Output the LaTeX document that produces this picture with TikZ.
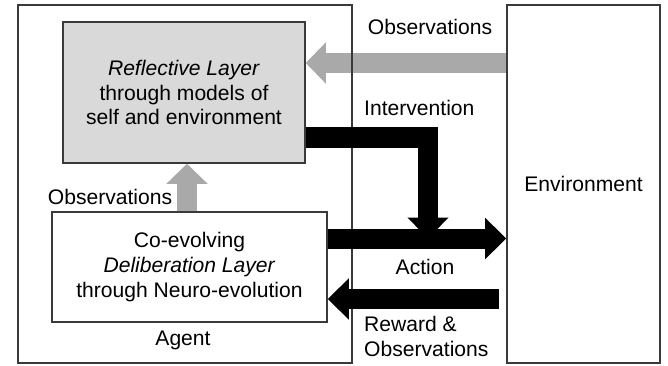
\documentclass[tikz,border=0pt]{standalone}
\usepackage{fontspec}
\setmainfont{Liberation Sans}
\usetikzlibrary{arrows.meta,backgrounds}

\definecolor{framegray}{HTML}{3A3A3A}
\definecolor{layergray}{HTML}{D9D9D9}
\definecolor{obsgray}{HTML}{A9A9A9}

\begin{document}
\begin{tikzpicture}
	[
		x=0.03cm, y=-0.03cm,
		font=\fontsize{18}{21.3}\selectfont,
		frame/.style={draw=framegray, line width=1.3pt, inner sep=0pt, align=center},
		flowlabel/.style={inner sep=0pt, align=left},
		obsflow/.style={draw=obsgray, line width=0.6cm, -{Triangle[length=0.6cm, width=1.2cm]}, obsgray},
		ctrlflow/.style={draw=black, line width=0.6cm, -{Triangle[length=0.63cm, width=1.2cm]}}
	]

	\useasboundingbox (0,0) rectangle (668,366);

	% boxes
	\node[frame, minimum width=10.02cm, minimum height=10.74cm] (agent) at (185,184) {};
	\node[frame, minimum width=4.59cm, minimum height=10.74cm] (env) at (583.5,184) {Environment};

	\node[frame, fill=layergray, minimum width=7.26cm, minimum height=4.23cm] (refl) at (184,92.5)
		{\textit{Reflective Layer}\\through models of\\self and environment};
	\node[frame, minimum width=8.25cm, minimum height=3.3cm] (delib) at (189.5,267)
		{Co-evolving\\\textit{Deliberation Layer}\\through Neuro-evolution};

	% levels of the flows
	\coordinate (obsY) at (0,63);
	\coordinate (upX) at (187,0);
	\coordinate (intY) at (0,137.5);
	\coordinate (intX) at (428,0);
	\coordinate (actY) at (0,238.5);
	\coordinate (rewY) at (0,299);

	% observations run under the agent frame
	\begin{pgfonlayer}{background}
		\draw[obsflow] (env.west |- obsY) -- (refl.east |- obsY);
		\draw[obsflow] (delib.north -| upX) -- (refl.south -| upX);
	\end{pgfonlayer}

	\draw[ctrlflow] (refl.east |- intY) -| (intX |- actY);
	\draw[ctrlflow] (delib.east |- actY) -- (env.west |- actY);
	\draw[ctrlflow] ([xshift=-0.21cm]env.west |- rewY) -- (delib.east |- rewY);

	% labels
	\node[flowlabel] (obstop) at (430,27) {Observations};
	\node[flowlabel, anchor=west] (intlabel) at (364,108) {Intervention};
	\node[flowlabel] (actlabel) at (425,267) {Action};
	\node[flowlabel, anchor=west] (rewlabel) at (364,336) {Reward \&\\Observations};
	\node[flowlabel] (obsleft) at (110,197) {Observations};
	\node[flowlabel] (agentlabel) at (183,340) {Agent};

\end{tikzpicture}
\end{document}
